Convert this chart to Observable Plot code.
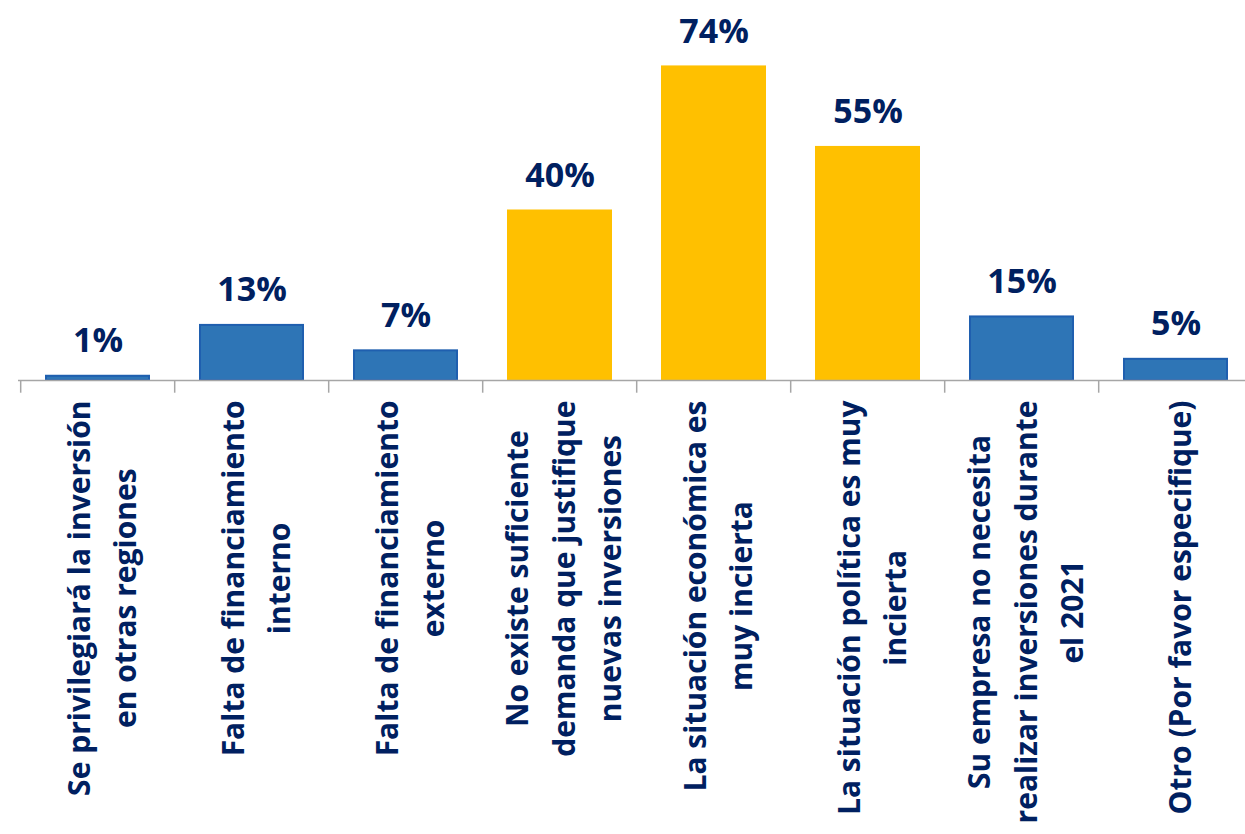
<!DOCTYPE html>
<html><head><meta charset="utf-8">
<script src="https://cdn.jsdelivr.net/npm/d3@7"></script>
<script src="https://cdn.jsdelivr.net/npm/@observablehq/plot@0.6"></script>
<style>body{margin:0;background:#fff;overflow:hidden}</style>
</head><body><div id="c"></div>
<script>
const categories = [
  "Se privilegiará la inversión\nen otras regiones",
  "Falta de financiamiento\ninterno",
  "Falta de financiamiento\nexterno",
  "No existe suficiente\ndemanda que justifique\nnuevas inversiones",
  "La situación económica es\nmuy incierta",
  "La situación política es muy\nincierta",
  "Su empresa no necesita\nrealizar inversiones durante\nel 2021",
  "Otro (Por favor especifique)"
];
const values = [1, 13, 7, 40, 74, 55, 15, 5];
const highlight = [false, false, false, true, true, true, false, false];
const data = categories.map((c, i) => ({c, v: values[i], h: highlight[i]}));
const font = "'Open Sans', sans-serif";
const bw = (1255 - 18) / 8;
const chart = Plot.plot({
  width: 1245, height: 834,
  marginTop: 41, marginBottom: 454, marginLeft: 18, marginRight: -10,
  style: {fontFamily: font, background: "#fff", overflow: "hidden"},
  x: {domain: categories, paddingInner: 0.33, paddingOuter: 0.165, axis: null},
  y: {domain: [0, 80], axis: null},
  marks: [
    Plot.barY(data, {x: "c", y: "v", fill: d => d.h ? "#FFC000" : "#2E75B6",
      stroke: d => d.h ? "#FFC000" : "#1F5FAF", strokeWidth: 2}),
    Plot.ruleY([0], {stroke: "#A6A6A6", strokeWidth: 1.5}),
    Plot.ruleX(categories, {x: d => d, dx: -bw / 2, y1: 0, y2: -3, stroke: "#A6A6A6", strokeWidth: 1.5}),
    Plot.text(data, {x: "c", y: "v", text: d => d.v + "%", dy: -35, fill: "#002060",
      fontSize: 34, fontWeight: "bold"}),
    Plot.text(data, {x: "c", y: 0, text: "c", rotate: -90, textAnchor: "end", lineAnchor: "middle",
      dy: 20, fill: "#002060", fontSize: 30, fontWeight: "bold", lineHeight: 1.55, className: "catlab"})
  ]
});
document.getElementById("c").append(chart);
// center the lines of each rotated label on its longest line
chart.querySelectorAll("g.catlab text, .catlab text").forEach(t => {
  const spans = t.querySelectorAll("tspan");
  if (!spans.length) return;
  let L = 0;
  spans.forEach(s => { L = Math.max(L, s.getComputedTextLength()); });
  t.setAttribute("text-anchor", "middle");
  spans.forEach(s => s.setAttribute("x", -L / 2));
});
</script></body></html>
